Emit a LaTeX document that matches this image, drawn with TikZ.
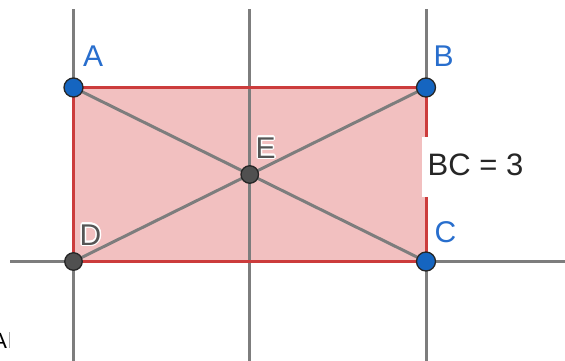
\documentclass[tikz,border=0pt]{standalone}
\usepackage{fontspec}
\setmainfont{Liberation Sans}
\usepackage{contour}
\contourlength{1.3pt}
\definecolor{polyfill}{RGB}{242,192,192}
\definecolor{polyedge}{RGB}{204,60,60}
\definecolor{axisgray}{RGB}{125,125,125}
\definecolor{ptblue}{RGB}{21,101,192}
\definecolor{lblblue}{RGB}{40,110,205}
\definecolor{ptgray}{RGB}{80,80,80}
\definecolor{lblgray}{RGB}{85,85,85}
\definecolor{cursorgray}{RGB}{175,175,175}
\begin{document}
\begin{tikzpicture}[x=1pt,y=-1pt,
  gline/.style={draw=axisgray,line width=3pt},
  edgeline/.style={draw=polyedge,line width=3pt,line cap=round},
  bluept/.style={circle,fill=ptblue,draw=black!85,line width=1.3pt,minimum size=19pt,inner sep=0pt},
  graypt/.style={circle,fill=ptgray,draw=black!85,line width=1.3pt,minimum size=17.5pt,inner sep=0pt},
  bluelbl/.style={text=lblblue,font=\fontsize{30}{30}\selectfont,inner sep=0pt,anchor=base west},
  graylbl/.style={text=lblgray,font=\fontsize{30}{30}\selectfont,inner sep=0pt,anchor=base west},
  measlbl/.style={text=black!85,font=\fontsize{31}{31}\selectfont,inner sep=0pt,anchor=base west}
]
\useasboundingbox (0,0) rectangle (565,360);
\fill[white] (0,0) rectangle (565,360);
% points
\coordinate (pA) at (73.5,87.5);
\coordinate (pB) at (426,87.5);
\coordinate (pC) at (426,261.5);
\coordinate (pD) at (73.5,261.5);
\coordinate (pE) at (249.75,174.5);
% free ends of the grid lines
\coordinate (v1t) at (73.5,9);
\coordinate (v1b) at (73.5,362);
\coordinate (v2t) at (249.75,9);
\coordinate (v2b) at (249.75,362);
\coordinate (v3t) at (426,9);
\coordinate (v3b) at (426,362);
\coordinate (hl) at (10,261.5);
\coordinate (hr) at (567,261.5);
% polygon fill
\fill[polyfill] (pA) -- (pB) -- (pC) -- (pD) -- cycle;
% grid lines
\draw[gline] (v1t) -- (v1b);
\draw[gline] (v2t) -- (v2b);
\draw[gline] (v3t) -- (v3b);
\draw[gline] (hl) -- (hr);
% diagonals
\draw[gline] (pA) -- (pC);
\draw[gline] (pB) -- (pD);
% polygon edges
\draw[edgeline] (pA) -- (pB) -- (pC) -- (pD) -- cycle;
% measurement label box
\fill[white] (421.5,137) rectangle (530,197);
\node[measlbl] (bc) at (427.5,175) {BC = 3};
% point markers
\node[bluept] (A) at (pA) {};
\node[bluept] (B) at (pB) {};
\node[bluept] (C) at (pC) {};
\node[graypt] (D) at (pD) {};
\node[graypt] (E) at (pE) {};
% point labels
\node[bluelbl] (lA) at (83,66.5) {A};
\node[bluelbl] (lB) at (433.5,66) {B};
\node[bluelbl] (lC) at (434.5,242) {C};
\node[graylbl] (lD) at (79.5,245) {\contour{white}{D}};
\node[graylbl] (lE) at (255.5,158) {\contour{white}{E}};
% cut-off text at lower left
\node[text=black,font=\fontsize{22}{22}\selectfont,inner sep=0pt,anchor=base west] (cut) at (-7.7,348) {A};
\coordinate (curT) at (9,332);
\coordinate (curB) at (9,348);
\draw[cursorgray,line width=0.8pt] (curT) -- (curB);
\end{tikzpicture}
\end{document}
